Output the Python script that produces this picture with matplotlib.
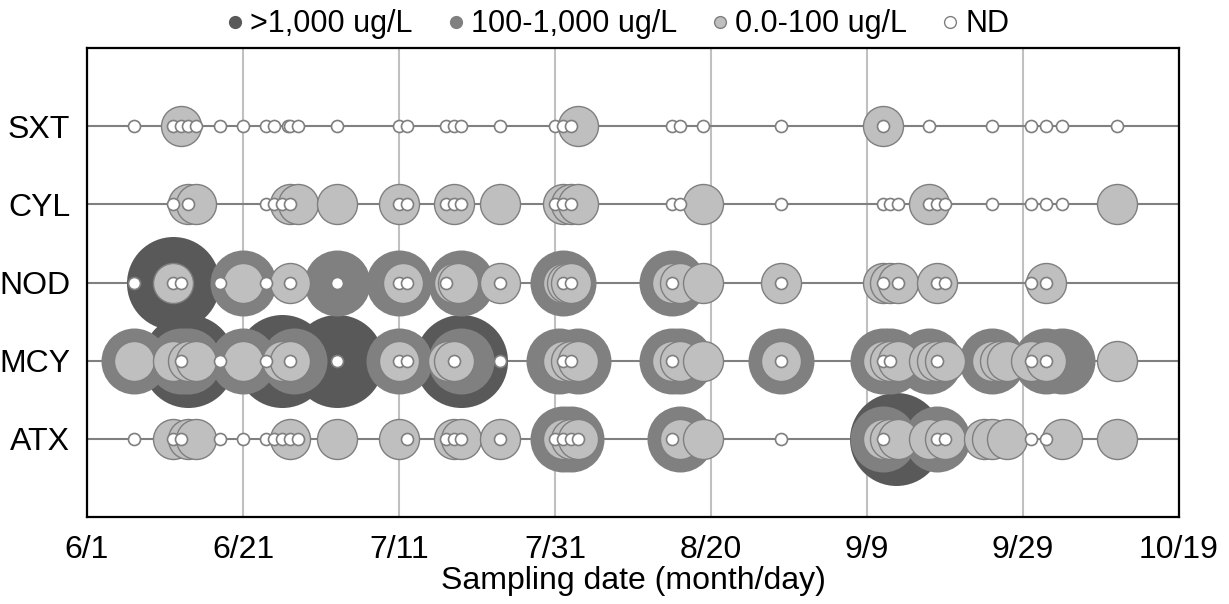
import matplotlib
matplotlib.use("Agg")
import matplotlib.pyplot as plt
from matplotlib.lines import Line2D
import datetime as dt

plt.rcParams['font.family'] = ['Liberation Sans', 'DejaVu Sans']

# ---------------- data ----------------
toxins = ['ATX', 'MCY', 'NOD', 'CYL', 'SXT']          # bottom -> top
categories = ['>1,000 ug/L', '100-1,000 ug/L', '0.0-100 ug/L', 'ND']
start_date = dt.date(2000, 6, 1)                       # day 0 = 6/1
tick_days = [0, 20, 40, 60, 80, 100, 120, 140]

# sampling days (days after 6/1) per toxin and concentration class
atx_high = [103.7]
atx_mid = [61, 62, 76, 102, 109]
atx_low = [11, 13, 14, 26, 32, 40, 47, 48, 53, 61, 62, 63, 76, 79, 102, 103, 104,
           108, 110, 115, 116, 118, 125, 132]
atx_nd = [6, 11, 12, 17, 20, 23, 24, 25, 26, 27, 41, 46, 47, 48, 53, 60, 61, 62, 63,
          75, 89, 102, 109, 110, 121, 123]

mcy_high = [13, 25, 32, 48]
mcy_mid = [6, 12, 13, 20, 26.5, 40, 48, 60.5, 63, 75, 76, 89, 102, 103, 108, 116,
           123, 125]
mcy_low = [6, 11, 13, 14, 20, 25, 26, 40, 46.3, 47, 61, 62, 63, 75, 76, 79, 89, 102,
           103, 104, 108, 109, 110, 116, 117, 118, 121, 123, 132]
mcy_nd = [12, 17, 23, 26, 32, 40, 41, 47, 53, 61, 62, 75, 89, 102, 103, 109, 121, 123]

nod_high = [11]
nod_mid = [20, 32, 40, 48, 61, 75]
nod_low = [11, 20, 26, 40.5, 47, 47.5, 53, 61, 61.5, 62, 75, 76, 79, 89, 102, 103,
           104, 109, 123]
nod_nd = [6, 11, 12, 17, 23, 26, 32, 40, 41, 46, 53, 61, 62, 75, 89, 102, 104, 109,
          110, 121, 123]

cyl_high = []
cyl_mid = []
cyl_low = [13, 14, 26, 27, 32, 40, 47, 53, 61, 62, 63, 79, 108, 132]
cyl_nd = [11, 13, 23, 24, 25, 26, 40, 41, 46, 47, 48, 60, 61, 62, 75, 76, 89, 102,
          103, 104, 108, 109, 110, 116, 121, 123, 125]

sxt_high = []
sxt_mid = []
sxt_low = [12, 63, 102]
sxt_nd = [6, 11, 12, 13, 14, 17, 20, 23, 24, 25.8, 26, 27, 32, 40, 41, 46, 47, 48, 53,
          60, 61, 62, 75, 76, 79, 89, 102, 108, 116, 121, 123, 125, 132]

data = {
    'ATX': [atx_high, atx_mid, atx_low, atx_nd],
    'MCY': [mcy_high, mcy_mid, mcy_low, mcy_nd],
    'NOD': [nod_high, nod_mid, nod_low, nod_nd],
    'CYL': [cyl_high, cyl_mid, cyl_low, cyl_nd],
    'SXT': [sxt_high, sxt_mid, sxt_low, sxt_nd],
}

# ---------------- style ----------------
face = ['#595959', '#808080', '#BFBFBF', '#FFFFFF']
edge = ['#595959', '#808080', '#7F7F7F', '#7F7F7F']
lw = [0.0, 0.0, 1.0, 1.2]
diam_px = [93, 66, 40, 12]
dpi = 100
sizes = [(d * 72.0 / dpi) ** 2 for d in diam_px]

W, H = 1229, 604
fig = plt.figure(figsize=(W / dpi, H / dpi), dpi=dpi)
ax = fig.add_axes([87 / W, 1 - 517 / H, (1179 - 87) / W, (517 - 48) / H])

ypos = {t: i + 1 for i, t in enumerate(toxins)}

for t in toxins:
    ax.axhline(ypos[t], color='#808080', lw=1.5, zorder=1)

for ci in range(len(categories)):
    for t in toxins:
        xs = data[t][ci]
        if not xs:
            continue
        ax.scatter(xs, [ypos[t]] * len(xs), s=sizes[ci], c=face[ci],
                   edgecolors=edge[ci], linewidths=lw[ci], zorder=2 + ci)

ax.set_xlim(0, 140)
ax.set_ylim(0, 6)
ax.set_xticks(tick_days)
labels = []
for d in tick_days:
    dd = start_date + dt.timedelta(days=d)
    labels.append(f"{dd.month}/{dd.day}")
ax.set_xticklabels(labels)
ax.set_yticks([ypos[t] for t in toxins])
ax.set_yticklabels(toxins)
ax.tick_params(axis='both', length=0, labelsize=23)
ax.tick_params(axis='x', pad=13)
ax.tick_params(axis='y', pad=12)
ax.grid(axis='x', color='#C0C0C0', lw=1.5, zorder=0)
ax.set_axisbelow(True)
for sp in ax.spines.values():
    sp.set_linewidth(1.6)
    sp.set_color('black')
    sp.set_zorder(10)
ax.set_xlabel('Sampling date (month/day)', fontsize=23, labelpad=1)

handles = []
for ci, cat in enumerate(categories):
    handles.append(Line2D([], [], ls='none', marker='o', markersize=8.5,
                          markerfacecolor=face[ci],
                          markeredgecolor=edge[ci] if ci >= 2 else face[ci],
                          markeredgewidth=1.0, label=cat))
fig.legend(handles=handles, loc='upper center', bbox_to_anchor=(0.5, 1.03),
           ncol=4, frameon=False, fontsize=22, handletextpad=0.0,
           columnspacing=0.9, handlelength=1.0)

fig.savefig('out.png', dpi=dpi)
